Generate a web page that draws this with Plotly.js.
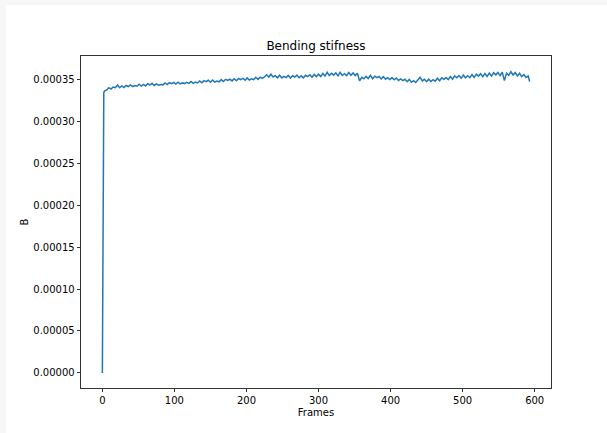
<!DOCTYPE html>
<html>
<head>
<meta charset="utf-8">
<script src="https://cdn.plot.ly/plotly-3.0.1.min.js"></script>
<style>
  html, body { margin: 0; padding: 0; background: #f7f7f7; width: 607px; height: 433px; overflow: hidden; }
  #chart { position: absolute; left: 6px; top: 5px; width: 601px; height: 428px; background: #ffffff; }
</style>
</head>
<body>
<div id="chart"></div>
<script>
const startFrames = [0, 1, 2, 3];
const stepFrom = 6, stepTo = 591, stepBy = 3;
const lastFrame = 593;

// Bending stiffness B, in units of 1e-6
const startB_e6 = [0.0, 331.0, 334.5, 336.2];
const stepB_e6 = [
  337.5, 340.2, 338.6, 341.0, 340.2, 343.4, 340.1, 342.3, 340.4, 342.8, 341.6, 343.6, 341.5, 342.7, 341.9, 344.3, 342.2, 344.1,
  342.3, 344.9, 343.6, 345.2, 342.9, 344.8, 343.2, 344.1, 343.6, 345.9, 344.0, 346.1, 345.0, 346.4, 344.6, 346.8, 344.8, 345.9, 345.1, 346.6,
  345.3, 347.6, 345.4, 346.8, 345.8, 348.2, 346.0, 348.6, 347.3, 349.0, 346.7, 349.3, 346.9, 348.2, 347.2, 349.8, 347.6, 350.2, 348.8, 350.3,
  348.3, 350.9, 348.5, 351.2, 349.9, 351.4, 349.2, 351.9, 349.4, 350.7, 349.7, 352.6, 350.1, 352.8, 351.2, 353.0, 355.6, 352.9, 356.3, 353.0,
  354.6, 352.0, 355.1, 351.8, 353.6, 352.2, 354.9, 351.7, 354.5, 353.0, 355.2, 352.1, 354.3, 351.9, 355.0, 353.4, 355.6, 352.6, 356.0, 353.4,
  356.3, 353.6, 357.2, 354.1, 358.6, 354.6, 357.5, 355.2, 357.9, 354.3, 358.4, 354.7, 356.8, 354.5, 358.2, 355.0, 357.8, 354.6, 357.4, 348.3,
  352.6, 350.8, 353.7, 351.2, 355.0, 351.0, 353.9, 352.3, 353.6, 350.6, 353.4, 350.3, 352.1, 349.9, 352.2, 349.6, 351.8, 348.9, 350.6, 348.6,
  350.2, 347.3, 350.1, 346.7, 348.6, 346.4, 349.3, 352.5, 348.4, 350.2, 347.4, 350.4, 347.6, 349.7, 348.0, 351.4, 348.5, 352.0, 350.2, 352.3,
  349.8, 353.6, 350.4, 354.2, 352.0, 354.7, 351.4, 355.3, 351.8, 354.4, 352.1, 356.0, 352.5, 356.4, 354.0, 356.8, 353.3, 357.2, 353.7, 357.6,
  354.0, 358.0, 355.5, 358.4, 354.6, 358.8, 348.6, 357.6, 355.0, 359.2, 355.3, 358.3, 354.2, 357.4, 353.5, 355.8, 352.4, 354.1
];
const lastB_e6 = [347.5];

// assemble
const frames = startFrames.slice();
for (let f = stepFrom; f <= stepTo; f += stepBy) frames.push(f);
frames.push(lastFrame);
const B = startB_e6.concat(stepB_e6, lastB_e6).map(v => v * 1e-6);

const trace = {
  x: frames, y: B, type: 'scatter', mode: 'lines',
  line: { color: '#1f77b4', width: 1.5 },
  hoverinfo: 'x+y'
};

const fontFam = 'DejaVu Sans, sans-serif';
const layout = {
  width: 601, height: 428,
  margin: { l: 75, r: 56, t: 51, b: 45 },
  paper_bgcolor: '#ffffff', plot_bgcolor: '#ffffff',
  showlegend: false,
  font: { family: fontFam, size: 10, color: '#000000' },
  title: { text: 'Bending stifness', font: { family: fontFam, size: 12, color: '#000' },
           x: 0.5, xref: 'paper', xanchor: 'center', y: 1, yref: 'paper', yanchor: 'bottom', pad: { b: 6 } },
  xaxis: {
    range: [-29.65, 622.65], dtick: 100, tick0: 0,
    showgrid: false, zeroline: false,
    showline: true, linecolor: '#000', linewidth: 0.8, mirror: true,
    ticks: 'outside', ticklen: 3.5, tickwidth: 0.8, tickcolor: '#000',
    tickfont: { family: fontFam, size: 10, color: '#000' },
    title: { text: 'Frames', font: { family: fontFam, size: 10, color: '#000' }, standoff: 3 }
  },
  yaxis: {
    range: [-0.000018, 0.000378], dtick: 0.00005, tick0: 0, tickformat: '.5f',
    showgrid: false, zeroline: false,
    showline: true, linecolor: '#000', linewidth: 0.8, mirror: true,
    ticks: 'outside', ticklen: 3.5, tickwidth: 0.8, tickcolor: '#000',
    tickfont: { family: fontFam, size: 10, color: '#000' },
    title: { text: 'B', font: { family: fontFam, size: 10, color: '#000' }, standoff: 2 }
  }
};

Plotly.newPlot('chart', [trace], layout, { displayModeBar: false, staticPlot: true });
</script>
</body>
</html>
